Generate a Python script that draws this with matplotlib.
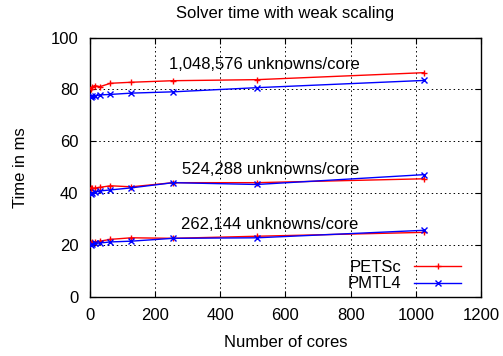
import matplotlib
matplotlib.use("Agg")
import matplotlib.pyplot as plt

plt.rcParams['font.family'] = ['Liberation Sans', 'DejaVu Sans']

cores = [4, 8, 16, 32, 64, 128, 256, 512, 1024]

petsc_1m = [80.3, 81.0, 81.5, 81.1, 82.4, 82.8, 83.4, 83.8, 86.5]
pmtl_1m = [77.2, 77.3, 77.5, 77.9, 78.1, 78.6, 79.1, 80.7, 83.5]
petsc_512k = [42.0, 41.8, 41.9, 42.2, 42.8, 42.4, 44.0, 44.0, 45.5]
pmtl_512k = [39.7, 40.0, 40.3, 40.8, 41.2, 42.0, 44.0, 43.3, 47.1]
petsc_256k = [20.6, 20.9, 21.1, 21.4, 22.1, 22.7, 22.5, 23.3, 24.8]
pmtl_256k = [20.0, 20.2, 20.5, 20.7, 21.1, 21.4, 22.5, 22.7, 25.6]

labels = ["1,048,576 unknowns/core", "524,288 unknowns/core", "262,144 unknowns/core"]
label_x = [535, 555, 550]
label_y = [89.8, 48.9, 27.8]

xticks = [0, 200, 400, 600, 800, 1000, 1200]
yticks = [0, 20, 40, 60, 80, 100]

FS = 12

fig = plt.figure(figsize=(5.03, 3.56), dpi=100)
ax = fig.add_axes([0.178, 0.167, 0.779, 0.727])

for i, (p, m) in enumerate([(petsc_1m, pmtl_1m), (petsc_512k, pmtl_512k), (petsc_256k, pmtl_256k)]):
    ax.plot(cores, p, color='#ff0000', marker='+', markersize=5, linewidth=1.0,
            label='PETSc' if i == 0 else None, zorder=3)
    ax.plot(cores, m, color='#0000ff', marker='x', markersize=4, linewidth=1.0,
            label='PMTL4' if i == 0 else None, zorder=3)

for t, xx, yy in zip(labels, label_x, label_y):
    ax.text(xx, yy, t, ha='center', va='center', fontsize=FS, zorder=4)

ax.set_xlim(0, 1200)
ax.set_ylim(0, 100)
ax.set_xticks(xticks)
ax.set_yticks(yticks)
ax.tick_params(direction='in', top=True, right=True, length=4, labelsize=FS, width=0.8)
ax.tick_params(axis='y', pad=8)
ax.tick_params(axis='x', pad=8)
ax.grid(True, color='black', linestyle=(0, (1.5, 3)), linewidth=0.7)
for s in ax.spines.values():
    s.set_linewidth(1.0)

ax.set_title("Solver time with weak scaling", fontsize=FS, pad=14)
ax.set_xlabel("Number of cores", fontsize=FS, labelpad=9)
ax.set_ylabel("Time in ms", fontsize=FS, labelpad=16)

leg = ax.legend(loc='lower right', bbox_to_anchor=(0.948, 0.02), frameon=False, fontsize=FS,
                markerfirst=False, handlelength=2.8, borderaxespad=0, borderpad=0,
                labelspacing=0.1, handletextpad=0.8)
for t in leg.get_texts():
    t.set_ha('right')

fig.savefig("out.png", dpi=100)
